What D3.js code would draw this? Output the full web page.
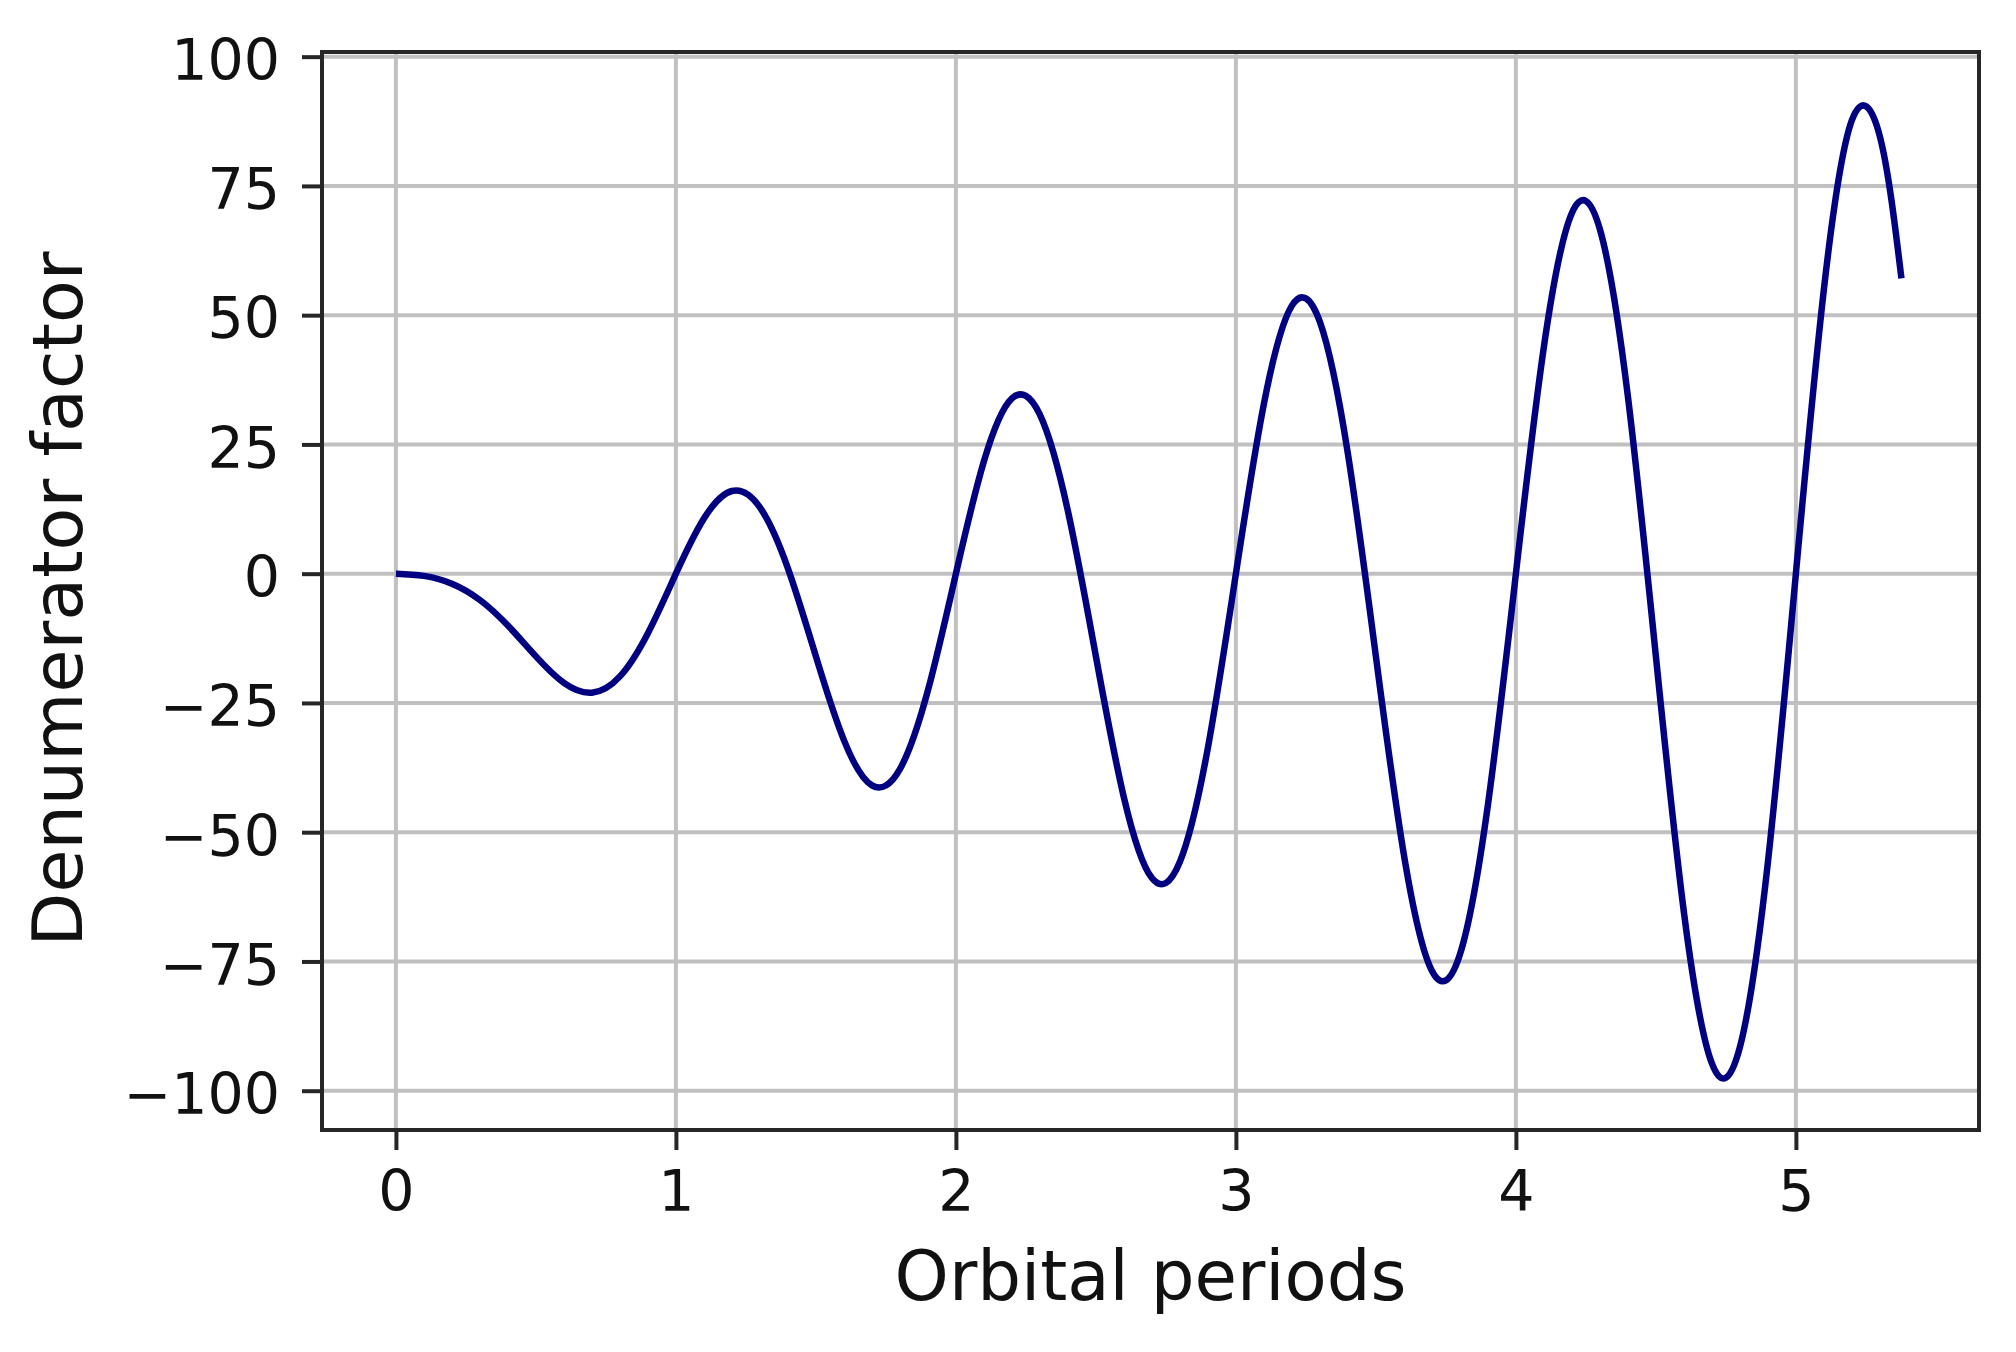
<!DOCTYPE html>
<html>
<head>
<meta charset="utf-8">
<script src="https://cdn.jsdelivr.net/npm/d3@7"></script>
<style>
  html, body { margin: 0; padding: 0; background: #fff; }
  svg { display: block; }
  text { font-family: "DejaVu Sans", sans-serif; fill: #111; }
</style>
</head>
<body>
<svg id="chart" width="2016" height="1352"></svg>
<script>
// Data (orbital periods vs denumerator factor)
const periods = [0,0.1,0.2,0.3,0.4,0.5,0.6,0.7,0.8,0.9,
  1.0,1.1,1.2,1.3,1.4,1.5,1.6,1.7,1.8,1.9,
  2.0,2.1,2.2,2.3,2.4,2.5,2.6,2.7,2.8,2.9,
  3.0,3.1,3.2,3.3,3.4,3.5,3.6,3.7,3.8,3.9,
  4.0,4.1,4.2,4.3,4.4,4.5,4.6,4.7,4.8,4.9,
  5.0,5.1,5.2,5.3,5.377];
const factor = [0,-0.42,-1.94,-5.09,-10.04,-16.0,-21.12,-23.02,-19.87,-11.50,
  0,10.66,15.99,12.83,1.04,-16.0,-32.20,-40.95,-37.80,-22.58,
  0,21.74,33.91,30.76,12.12,-16.0,-43.28,-58.88,-55.73,-33.66,
  0,32.82,51.84,48.69,23.20,-16.0,-54.36,-76.81,-73.66,-44.74,
  0,43.90,69.77,66.62,34.28,-16.0,-65.44,-94.73,-91.58,-55.82,
  0,54.98,87.70,84.55,57.1];
const xTicks = [0,1,2,3,4,5];
const yTicks = [-100,-75,-50,-25,0,25,50,75,100];
const xLimits = [-0.264, 5.654];
const yLimits = [-107.6, 100.9];
const xLabel = "Orbital periods";
const yLabel = "Denumerator factor";

const svg = d3.select("#chart");
const plot = {left: 322, right: 1979, top: 52, bottom: 1130};

const x = d3.scaleLinear().domain(xLimits).range([plot.left, plot.right]);
const y = d3.scaleLinear().domain(yLimits).range([plot.bottom, plot.top]);

const fmt = v => (v < 0 ? "\u2212" + Math.abs(v) : String(v));

// grid
const grid = svg.append("g");
grid.selectAll("line.gx").data(xTicks).enter().append("line")
  .attr("x1", d => x(d)).attr("x2", d => x(d))
  .attr("y1", plot.top).attr("y2", plot.bottom)
  .attr("stroke", "#c0c0c0").attr("stroke-width", 4);
grid.selectAll("line.gy").data(yTicks).enter().append("line")
  .attr("y1", d => y(d)).attr("y2", d => y(d))
  .attr("x1", plot.left).attr("x2", plot.right)
  .attr("stroke", "#c0c0c0").attr("stroke-width", 4);

// line
const pts = periods.map((p, i) => [p, factor[i]]);
const line = d3.line().x(d => x(d[0])).y(d => y(d[1])).curve(d3.curveNatural);
svg.append("path").datum(pts)
  .attr("d", line)
  .attr("fill", "none")
  .attr("stroke", "#000080")
  .attr("stroke-width", 6.5)
  .attr("stroke-linejoin", "round");

// axes (d3 axes for ticks & labels)
const xAxis = d3.axisBottom(x).tickValues(xTicks).tickFormat(fmt).tickSize(20).tickPadding(14);
const yAxis = d3.axisLeft(y).tickValues(yTicks).tickFormat(fmt).tickSize(20).tickPadding(22);

const gx = svg.append("g").attr("transform", `translate(0,${plot.bottom})`).call(xAxis);
const gy = svg.append("g").attr("transform", `translate(${plot.left},0)`).call(yAxis);
[gx, gy].forEach(g => {
  g.select(".domain").remove();
  g.selectAll(".tick line").attr("stroke", "#262626").attr("stroke-width", 4);
  g.selectAll(".tick text").attr("fill", "#111")
    .style("font-family", "'DejaVu Sans', sans-serif").style("font-size", "57px");
});
gx.selectAll(".tick text").attr("dy", null).attr("y", 81);
gy.selectAll(".tick text").attr("dy", "0.4em");

// spines
svg.append("rect")
  .attr("x", plot.left).attr("y", plot.top)
  .attr("width", plot.right - plot.left).attr("height", plot.bottom - plot.top)
  .attr("fill", "none").attr("stroke", "#262626").attr("stroke-width", 4);

// axis labels
svg.append("text")
  .attr("x", (plot.left + plot.right) / 2).attr("y", 1300)
  .attr("text-anchor", "middle").style("font-size", "69px")
  .text(xLabel);
svg.append("text")
  .attr("transform", `translate(82,${(plot.top + plot.bottom) / 2 + 8}) rotate(-90)`)
  .attr("text-anchor", "middle").style("font-size", "70px")
  .text(yLabel);
</script>
</body>
</html>
